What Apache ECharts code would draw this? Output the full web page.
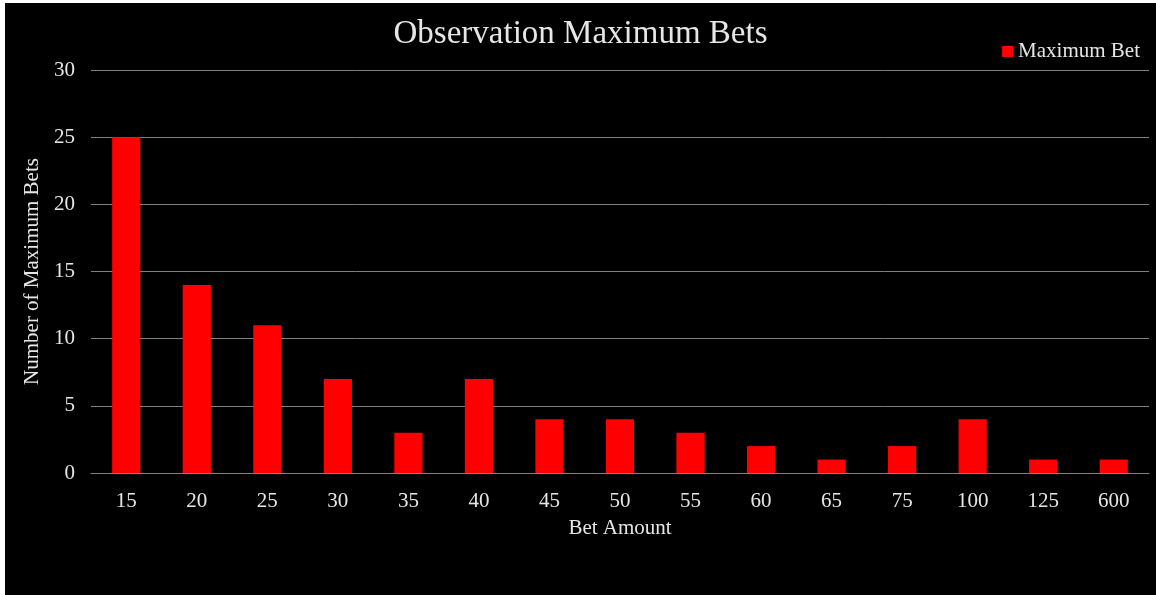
<!DOCTYPE html>
<html><head><meta charset="utf-8">
<script src="https://cdn.jsdelivr.net/npm/echarts@6/dist/echarts.min.js"></script>
<style>
html,body{margin:0;padding:0;background:#fff;width:1156px;height:595px;overflow:hidden}
#c{position:absolute;left:5px;top:3px;width:1151px;height:592px;background:#000}
</style></head><body>
<div id="c"></div>
<script>
const categories = ['15','20','25','30','35','40','45','50','55','60','65','75','100','125','600'];
const maxBets = [25,14,11,7,3,7,4,4,3,2,1,2,4,1,1];
const seriesName = 'Maximum Bet';
const font = '"Liberation Serif", "DejaVu Serif", serif';
const txt = '#e6e6e6';
const chart = echarts.init(document.getElementById('c'));
chart.setOption({
  backgroundColor: '#000',
  animation: false,
  textStyle: {fontFamily: font},
  title: {text: 'Observation Maximum Bets', left: 'center', top: 10,
    textStyle: {color: txt, fontFamily: font, fontSize: 33, fontWeight: 'normal'}},
  legend: {right: 11, top: 33, itemWidth: 11, itemHeight: 11, itemGap: 5,
    icon: 'rect', textStyle: {color: txt, fontFamily: font, fontSize: 21},
    data: [seriesName]},
  grid: {left: 86, right: 7, top: 67, bottom: 122},
  xAxis: {type: 'category', data: categories, name: 'Bet Amount', nameLocation: 'middle', nameGap: 45,
    nameTextStyle: {color: txt, fontFamily: font, fontSize: 21},
    axisLine: {lineStyle: {color: '#808080', width: 1}}, axisTick: {show: false},
    axisLabel: {color: txt, fontFamily: font, fontSize: 21, margin: 18}},
  yAxis: {type: 'value', min: 0, max: 30, interval: 5, name: 'Number of Maximum Bets', nameLocation: 'middle', nameGap: 45,
    nameTextStyle: {color: txt, fontFamily: font, fontSize: 21},
    axisLine: {show: false}, axisTick: {show: false},
    splitLine: {lineStyle: {color: '#808080', width: 1}},
    axisLabel: {color: txt, fontFamily: font, fontSize: 21, margin: 16}},
  series: [{name: seriesName, type: 'bar', data: maxBets, barWidth: '40%',
    itemStyle: {color: '#ff0000'}}]
});
</script></body></html>
